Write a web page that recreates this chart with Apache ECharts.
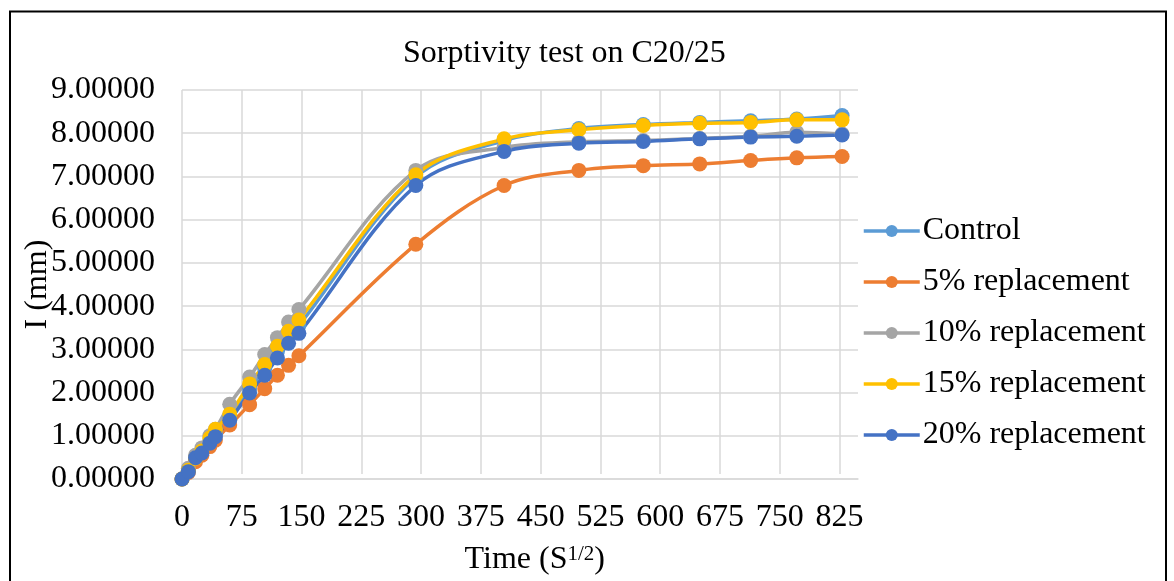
<!DOCTYPE html>
<html>
<head>
<meta charset="utf-8">
<script src="https://cdn.jsdelivr.net/npm/echarts@6/dist/echarts.min.js"></script>
<style>
  html, body { margin: 0; padding: 0; background: #fff; }
  #chart { width: 1174px; height: 581px; }
</style>
</head>
<body>
<div id="chart"></div>
<script>
// time axis (square root of seconds)
var times = [0, 8, 17, 25, 35, 42, 60, 85, 104, 120, 134, 147, 294, 405, 499, 580, 651, 715, 773, 830];

var seriesNames = ['Control', '5% replacement', '10% replacement', '15% replacement', '20% replacement'];
var seriesColors = ['#5B9BD5', '#ED7D31', '#A5A5A5', '#FFC000', '#4472C4'];

var control = [0, 0.20, 0.48, 0.65, 0.88, 1.05, 1.45, 2.08, 2.55, 2.95, 3.30, 3.55, 6.98, 7.83, 8.11, 8.20, 8.25, 8.29, 8.33, 8.41];
var rep5 = [0, 0.15, 0.40, 0.55, 0.75, 0.90, 1.25, 1.72, 2.09, 2.40, 2.63, 2.85, 5.43, 6.79, 7.14, 7.25, 7.29, 7.37, 7.43, 7.46];
var rep10 = [0, 0.25, 0.55, 0.72, 1.00, 1.15, 1.73, 2.36, 2.88, 3.27, 3.63, 3.92, 7.14, 7.67, 7.80, 7.83, 7.88, 7.93, 8.02, 7.98];
var rep15 = [0, 0.20, 0.48, 0.65, 0.95, 1.15, 1.50, 2.20, 2.65, 3.07, 3.42, 3.68, 7.04, 7.87, 8.08, 8.18, 8.23, 8.25, 8.31, 8.31];
var rep20 = [0, 0.17, 0.49, 0.60, 0.83, 0.98, 1.36, 1.99, 2.40, 2.80, 3.14, 3.37, 6.79, 7.58, 7.77, 7.81, 7.87, 7.91, 7.93, 7.96];

var xTicks = { min: 0, max: 825, interval: 75 };
var yTicks = { min: 0, max: 9, interval: 1 };

var allValues = [control, rep5, rep10, rep15, rep20];
var font = '"Liberation Serif", "Times New Roman", serif';

function pairs(values) {
    var out = [];
    for (var i = 0; i < times.length; i++) {
        out.push([times[i], values[i]]);
    }
    return out;
}

var series = [];
for (var i = 0; i < seriesNames.length; i++) {
    series.push({
        name: seriesNames[i],
        type: 'line',
        xAxisIndex: 0,
        yAxisIndex: 0,
        smooth: 0.35,
        symbol: 'circle',
        symbolSize: 15,
        clip: false,
        data: pairs(allValues[i]),
        itemStyle: { color: seriesColors[i] },
        lineStyle: { color: seriesColors[i], width: 3.5 }
    });
}

var myChart = echarts.init(document.getElementById('chart'));
var option = {
    animation: false,
    color: seriesColors,
    title: {
        text: 'Sorptivity test on C20/25',
        left: 403,
        top: 38,
        padding: 0,
        textStyle: { fontFamily: font, fontSize: 32, fontWeight: 'normal', color: '#000' }
    },
    legend: {
        orient: 'vertical',
        left: 862,
        top: 215,
        padding: 0,
        itemWidth: 56,
        itemHeight: 15,
        itemGap: 19,
        data: seriesNames,
        lineStyle: { width: 3.5 },
        textStyle: { fontFamily: font, fontSize: 32, color: '#000', lineHeight: 32, padding: [0, 0, 0, -2] }
    },
    graphic: [{
        type: 'rect',
        shape: { x: 10, y: 11.5, width: 1156, height: 620 },
        style: { fill: 'none', stroke: '#000', lineWidth: 2 },
        silent: true
    }],
    grid: [
        { left: 182, top: 90, right: 316, bottom: 102 },
        { left: 182, top: 90, width: 657.5, bottom: 102 }
    ],
    xAxis: [{
        gridIndex: 0,
        type: 'value',
        min: 0,
        max: 850,
        interval: 75,
        axisLine: { show: true, lineStyle: { color: '#D9D9D9', width: 1.5 } },
        axisTick: { show: false },
        axisLabel: { show: false },
        splitLine: { show: false }
    }, {
        gridIndex: 1,
        type: 'value',
        min: xTicks.min,
        max: xTicks.max,
        interval: xTicks.interval,
        axisLine: { show: false },
        axisTick: { show: false },
        axisLabel: { fontFamily: font, fontSize: 32, color: '#000', margin: 28 },
        splitLine: { show: true, lineStyle: { color: '#D9D9D9', width: 1.5 } },
        name: '{a|Time (S}{sup|1/2}{a|)}',
        nameLocation: 'middle',
        nameGap: 70,
        nameMoveOverlap: false,
        nameTextStyle: {
            padding: [0, 0, 0, 48],
            rich: {
                a: { fontFamily: font, fontSize: 32, color: '#000' },
                sup: { fontFamily: font, fontSize: 21, color: '#000', verticalAlign: 'top', padding: [0, 0, 10, 0] }
            }
        }
    }],
    yAxis: [{
        gridIndex: 0,
        type: 'value',
        min: yTicks.min,
        max: yTicks.max,
        interval: yTicks.interval,
        axisLine: { show: false },
        axisTick: { show: false },
        axisLabel: {
            fontFamily: font, fontSize: 32, color: '#000', margin: 27,
            formatter: function(v) { return v.toFixed(5); }
        },
        splitLine: { show: true, lineStyle: { color: '#D9D9D9', width: 1.5 } },
        name: 'I (mm)',
        nameLocation: 'middle',
        nameGap: 128,
        nameMoveOverlap: false,
        nameTextStyle: { fontFamily: font, fontSize: 32, color: '#000' }
    }, {
        gridIndex: 1,
        type: 'value',
        min: yTicks.min,
        max: yTicks.max,
        show: false
    }],
    series: series
};
myChart.setOption(option);
</script>
</body>
</html>
